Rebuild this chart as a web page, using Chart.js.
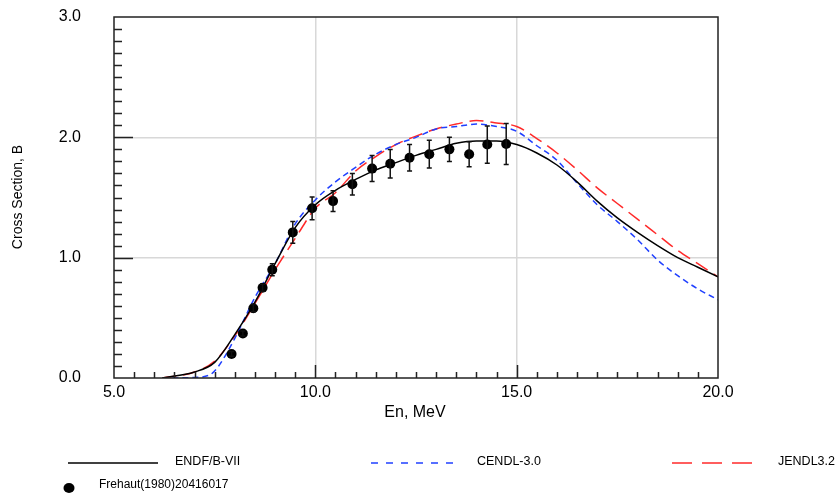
<!DOCTYPE html>
<html>
<head>
<meta charset="utf-8">
<script src="https://cdn.jsdelivr.net/npm/chart.js@4.4.1/dist/chart.umd.min.js"></script>
<style>
  body { margin: 0; background: #fff; }
  #chart { display: block; }
</style>
</head>
<body>
<canvas id="chart" width="837" height="497"></canvas>
<script>
// ENDF/B-VII (black solid)
const endfE  = [6.2, 7.0, 7.5, 8.0, 8.5, 9.0, 9.5, 10.0, 10.5, 11.0, 11.5, 12.0, 12.5, 13.0, 13.5, 14.0, 14.5, 15.0, 15.5, 16.0, 16.5, 17.0, 17.5, 18.0, 18.5, 19.0, 19.5, 20.0];
const endfXS = [0.0, 0.05, 0.13, 0.36, 0.63, 0.95, 1.25, 1.44, 1.56, 1.65, 1.73, 1.79, 1.85, 1.90, 1.95, 1.97, 1.97, 1.94, 1.87, 1.77, 1.63, 1.47, 1.33, 1.21, 1.10, 1.00, 0.92, 0.84];

// CENDL-3.0 (blue short dash)
const cendlE  = [6.45, 7.0, 7.4, 7.6, 8.0, 8.5, 9.0, 9.5, 10.0, 10.5, 11.0, 11.5, 12.0, 12.5, 13.0, 13.5, 14.0, 14.5, 15.0, 15.5, 16.0, 16.5, 17.0, 17.5, 18.0, 18.5, 19.0, 19.5, 20.0];
const cendlXS = [0.0, 0.005, 0.03, 0.10, 0.33, 0.67, 0.95, 1.28, 1.48, 1.63, 1.75, 1.86, 1.94, 2.00, 2.07, 2.09, 2.11, 2.09, 2.05, 1.93, 1.81, 1.62, 1.44, 1.30, 1.15, 0.98, 0.85, 0.74, 0.65];

// JENDL3.2 (red long dash)
const jendlE  = [6.2, 7.0, 7.5, 8.0, 8.5, 9.0, 9.5, 10.0, 10.5, 11.0, 11.5, 12.0, 12.5, 13.0, 13.5, 14.0, 14.5, 15.0, 15.5, 16.0, 16.5, 17.0, 17.5, 18.0, 18.5, 19.0, 19.5, 20.0];
const jendlXS = [0.0, 0.05, 0.14, 0.35, 0.62, 0.90, 1.16, 1.41, 1.54, 1.72, 1.84, 1.94, 2.01, 2.07, 2.11, 2.14, 2.12, 2.09, 1.99, 1.87, 1.73, 1.58, 1.45, 1.32, 1.19, 1.06, 0.95, 0.84];

// Frehaut(1980)20416017 measurements
const expE   = [7.92, 8.20, 8.46, 8.69, 8.93, 9.44, 9.92, 10.44, 10.92, 11.41, 11.86, 12.34, 12.83, 13.33, 13.82, 14.27, 14.74];
const expXS  = [0.20, 0.37, 0.58, 0.75, 0.90, 1.21, 1.41, 1.47, 1.61, 1.74, 1.78, 1.83, 1.86, 1.90, 1.86, 1.94, 1.945];
const expErr = [0.02, 0.02, 0.03, 0.03, 0.05, 0.09, 0.094, 0.086, 0.09, 0.108, 0.118, 0.11, 0.115, 0.10, 0.104, 0.155, 0.17];

const xTicks = [5, 10, 15, 20];
const yTicks = [0, 1, 2, 3];

const toXY = (xs, ys) => xs.map((x, i) => ({ x: x, y: ys[i] }));
const FONT = '"Liberation Sans", Arial, Helvetica, sans-serif';

// error bars
const errorBars = {
  id: 'errorBars',
  afterDatasetsDraw(chart) {
    const { ctx, scales: { x, y } } = chart;
    ctx.save();
    ctx.strokeStyle = '#111';
    ctx.lineWidth = 1.5;
    expE.forEach((e, i) => {
      const px = x.getPixelForValue(e);
      const top = y.getPixelForValue(expXS[i] + expErr[i]);
      const bot = y.getPixelForValue(expXS[i] - expErr[i]);
      ctx.beginPath();
      ctx.moveTo(px, top); ctx.lineTo(px, bot);
      ctx.moveTo(px - 2.5, top); ctx.lineTo(px + 2.5, top);
      ctx.moveTo(px - 2.5, bot); ctx.lineTo(px + 2.5, bot);
      ctx.stroke();
    });
    ctx.restore();
  }
};

// frame, inward ticks, titles and legend
const frame = {
  id: 'frame',
  afterDraw(chart) {
    const { ctx, chartArea: a, scales: { x, y } } = chart;
    ctx.save();
    ctx.strokeStyle = '#222';
    ctx.lineWidth = 1.5;
    ctx.strokeRect(a.left, a.top, a.right - a.left, a.bottom - a.top);

    ctx.beginPath();
    for (let v = 1; v < 30; v++) {
      const py = Math.round(y.getPixelForValue(v / 10)) + 0.5;
      const len = (v % 10 === 0) ? 19 : 8;
      ctx.moveTo(a.left, py); ctx.lineTo(a.left + len, py);
    }
    for (let v = 11; v < 40; v++) {
      const px = Math.round(x.getPixelForValue(v / 2)) + 0.5;
      const len = (v % 10 === 0) ? 13 : 6;
      ctx.moveTo(px, a.bottom); ctx.lineTo(px, a.bottom - len);
    }
    ctx.stroke();

    ctx.fillStyle = '#000';
    ctx.textBaseline = 'middle';
    ctx.textAlign = 'center';
    ctx.font = '16px ' + FONT;
    ctx.fillText('En, MeV', 415, 413);

    ctx.save();
    ctx.translate(18, 197);
    ctx.rotate(-Math.PI / 2);
    ctx.font = '14px ' + FONT;
    ctx.fillText('Cross Section, B', 0, 0);
    ctx.restore();

    // legend
    const rowY = 463;
    ctx.textAlign = 'left';
    ctx.font = '12.5px ' + FONT;
    const items = [
      { x0: 68,  x1: 158, color: '#000',    dash: [],       label: 'ENDF/B-VII', tx: 175 },
      { x0: 371, x1: 454, color: '#2040ff', dash: [7, 8],   label: 'CENDL-3.0',  tx: 477 },
      { x0: 672, x1: 752, color: '#ff2a2a', dash: [20, 10], label: 'JENDL3.2',   tx: 778 }
    ];
    items.forEach(it => {
      ctx.strokeStyle = it.color;
      ctx.lineWidth = 1.5;
      ctx.setLineDash(it.dash);
      ctx.beginPath();
      ctx.moveTo(it.x0, rowY); ctx.lineTo(it.x1, rowY);
      ctx.stroke();
      ctx.setLineDash([]);
      ctx.fillStyle = '#000';
      ctx.fillText(it.label, it.tx, rowY - 1);
    });
    ctx.beginPath();
    ctx.ellipse(69, 488, 5.5, 5, 0, 0, Math.PI * 2);
    ctx.fill();
    ctx.font = '12px ' + FONT;
    ctx.fillText('Frehaut(1980)20416017', 99, 485);
    ctx.restore();
  }
};

new Chart(document.getElementById('chart').getContext('2d'), {
  type: 'scatter',
  data: {
    datasets: [
      {
        label: 'Frehaut(1980)20416017',
        data: toXY(expE, expXS),
        pointRadius: 5,
        pointBackgroundColor: '#000',
        pointBorderWidth: 0,
        showLine: false
      },
      {
        label: 'ENDF/B-VII',
        data: toXY(endfE, endfXS),
        showLine: true,
        borderColor: '#000',
        borderWidth: 1.5,
        pointRadius: 0,
        cubicInterpolationMode: 'monotone'
      },
      {
        label: 'CENDL-3.0',
        data: toXY(cendlE, cendlXS),
        showLine: true,
        borderColor: '#2040ff',
        borderWidth: 1.5,
        borderDash: [6, 4],
        pointRadius: 0,
        cubicInterpolationMode: 'monotone'
      },
      {
        label: 'JENDL3.2',
        data: toXY(jendlE, jendlXS),
        showLine: true,
        borderColor: '#ff2a2a',
        borderWidth: 1.5,
        borderDash: [14, 7],
        pointRadius: 0,
        cubicInterpolationMode: 'monotone'
      }
    ]
  },
  options: {
    responsive: false,
    animation: false,
    layout: { padding: { left: 0, top: 17, right: 119, bottom: 0 } },
    plugins: { legend: { display: false }, tooltip: { enabled: false } },
    scales: {
      x: {
        type: 'linear',
        min: 5, max: 20,
        afterFit: s => { s.height = 119; s.paddingLeft = 0; s.paddingRight = 0; },
        afterBuildTicks: s => { s.ticks = xTicks.map(v => ({ value: v })); },
        border: { display: false },
        grid: {
          drawTicks: false,
          color: c => (c.tick && (c.tick.value === 10 || c.tick.value === 15)) ? '#d8d8d8' : 'rgba(0,0,0,0)',
          lineWidth: 1.5
        },
        ticks: {
          padding: 5,
          color: '#000',
          font: { family: FONT, size: 16 },
          callback: v => v.toFixed(1)
        }
      },
      y: {
        type: 'linear',
        min: 0, max: 3,
        afterFit: s => { s.width = 114; s.paddingTop = 0; s.paddingBottom = 0; },
        afterBuildTicks: s => { s.ticks = yTicks.map(v => ({ value: v })); },
        border: { display: false },
        grid: {
          drawTicks: false,
          color: c => (c.tick && (c.tick.value === 1 || c.tick.value === 2)) ? '#d8d8d8' : 'rgba(0,0,0,0)',
          lineWidth: 1.5
        },
        ticks: {
          padding: 33,
          color: '#000',
          font: { family: FONT, size: 16 },
          callback: v => v.toFixed(1)
        }
      }
    }
  },
  plugins: [errorBars, frame]
});
</script>
</body>
</html>
